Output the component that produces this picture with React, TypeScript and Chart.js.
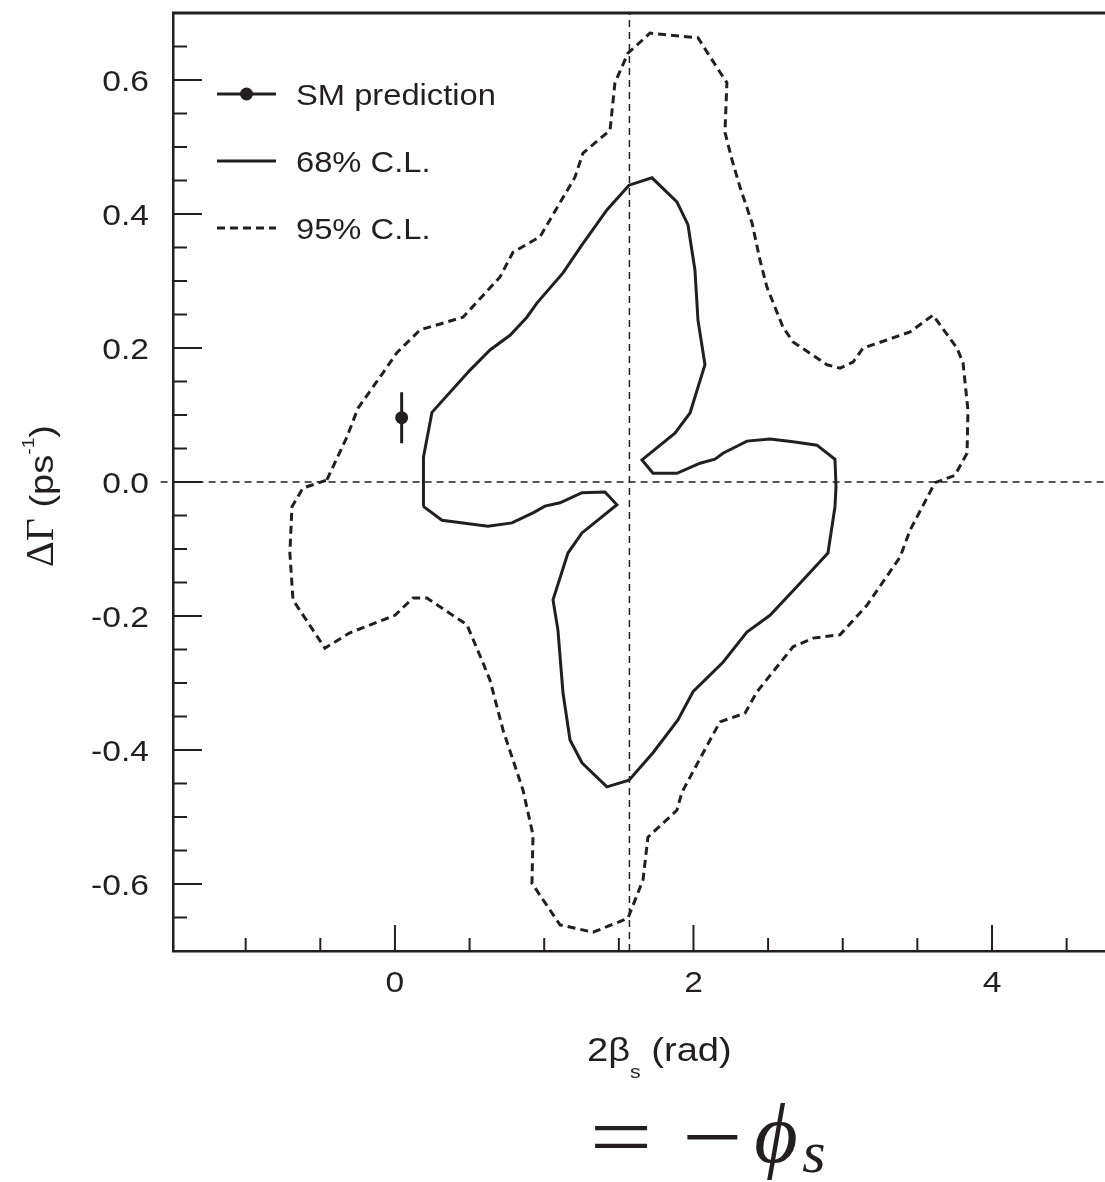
import { useEffect, useRef } from "react";
import { Chart, registerables } from "chart.js";

Chart.register(...registerables);

const INK = "#231f20";
const WIDTH = 1105;
const HEIGHT = 1182;
// the plot frame continues past the right edge of the page
const CANVAS_WIDTH = 1112;

// 95% C.L. contour: 2βs (rad) and ΔΓ (ps^-1)
const cl95Beta = [
  -0.456, -0.322, -0.248, -0.08, 0.013, 0.168, 0.456, 0.704, 0.791, 0.972,
  1.206, 1.26, 1.441, 1.474, 1.561, 1.709, 2.03, 2.191, 2.224, 2.211,
  2.258, 2.312, 2.392, 2.446, 2.492, 2.6, 2.667, 2.894, 2.982, 3.069,
  3.136, 3.296, 3.451, 3.605, 3.765, 3.806, 3.839, 3.833, 3.752, 3.618,
  3.451, 3.384, 3.162, 2.982, 2.801, 2.667, 2.426, 2.345, 2.178, 2.111,
  1.923, 1.889, 1.695, 1.662, 1.561, 1.327, 1.106, 0.918, 0.925, 0.858,
  0.724, 0.637, 0.59, 0.482, 0.214, 0.121, 0.0, -0.302, -0.469, -0.683,
  -0.704, -0.69, -0.616,
];
const cl95Gamma = [
  0.003, 0.067, 0.11, 0.163, 0.193, 0.227, 0.246, 0.306, 0.343, 0.366,
  0.455, 0.491, 0.525, 0.596, 0.64, 0.67, 0.663, 0.607, 0.596, 0.522,
  0.481, 0.44, 0.387, 0.331, 0.291, 0.231, 0.209, 0.175, 0.17, 0.179,
  0.2, 0.212, 0.224, 0.249, 0.2, 0.178, 0.107, 0.043, 0.01, -0.001,
  -0.072, -0.112, -0.184, -0.228, -0.233, -0.246, -0.313, -0.345, -0.358, -0.385,
  -0.463, -0.49, -0.53, -0.594, -0.651, -0.672, -0.661, -0.599, -0.527, -0.46,
  -0.37, -0.296, -0.27, -0.213, -0.173, -0.173, -0.199, -0.225, -0.248, -0.176,
  -0.106, -0.037, -0.009,
];

// 68% C.L. contour
const cl68Beta = [
  0.188, 0.188, 0.194, 0.248, 0.503, 0.637, 0.771, 0.884, 0.951, 1.126,
  1.253, 1.42, 1.568, 1.722, 1.889, 1.963, 2.01, 2.03, 2.077, 1.977,
  1.876, 1.655, 1.729, 1.889, 2.044, 2.144, 2.198, 2.358, 2.513, 2.667,
  2.827, 2.948, 2.955, 2.948, 2.901, 2.714, 2.513, 2.358, 2.198, 1.997,
  1.896, 1.729, 1.568, 1.42, 1.253, 1.173, 1.126, 1.092, 1.059, 1.159,
  1.253, 1.487, 1.407, 1.253, 1.106, 1.005, 0.925, 0.784, 0.623, 0.315,
];
const cl68Gamma = [
  -0.036, 0.0, 0.037, 0.104, 0.167, 0.197, 0.219, 0.246, 0.267, 0.312,
  0.354, 0.406, 0.443, 0.454, 0.418, 0.384, 0.316, 0.242, 0.175, 0.103,
  0.073, 0.033, 0.013, 0.013, 0.028, 0.034, 0.043, 0.061, 0.064, 0.06,
  0.055, 0.034, -0.007, -0.037, -0.106, -0.151, -0.199, -0.224, -0.269, -0.313,
  -0.355, -0.404, -0.445, -0.455, -0.419, -0.385, -0.315, -0.221, -0.176, -0.106,
  -0.076, -0.034, -0.015, -0.016, -0.031, -0.036, -0.046, -0.061, -0.066, -0.057,
];

// Standard Model prediction with its uncertainty on ΔΓ
const smBeta = 0.045;
const smGamma = 0.096;
const smGammaErr = 0.038;

// Dashed guide lines
const guideBeta = 1.571;
const guideGamma = 0;

// Axis ranges
const betaRange = [-1.487, 4.7605];
const gammaRange = [-0.7, 0.7];

// Tick marks and labels
const xMajorTicks = [0, 2, 4];
const xMajorLabels = ["0", "2", "4"];
const xMinorTicks = [-1, -0.5, 0.5, 1, 1.5, 2.5, 3, 3.5, 4.5];
const yMajorTicks = [-0.6, -0.4, -0.2, 0, 0.2, 0.4, 0.6];
const yMajorLabels = ["-0.6", "-0.4", "-0.2", "0.0", "0.2", "0.4", "0.6"];
const yMinorTicks = [
  -0.65, -0.55, -0.5, -0.45, -0.35, -0.3, -0.25, -0.15, -0.1, -0.05,
  0.05, 0.1, 0.15, 0.25, 0.3, 0.35, 0.45, 0.5, 0.55, 0.65,
];

const legendLabels = ["SM prediction", "68% C.L.", "95% C.L."];

const SANS = "'Liberation Sans', Arial, sans-serif";
const SERIF = "'Liberation Serif', 'Times New Roman', 'DejaVu Serif', serif";
const STRETCH = 1.12;
const DASH95 = [8, 5];
const DASH_GUIDE = [7, 5];

function toPoints(xs: number[], ys: number[], close: boolean) {
  const pts = xs.map((x, i) => ({ x, y: ys[i] }));
  if (close) pts.push({ ...pts[0] });
  return pts;
}

// Draws text with a horizontal stretch; returns the advance width
function run(
  ctx: CanvasRenderingContext2D,
  text: string,
  x: number,
  y: number,
  font: string,
  align: "left" | "center" | "right" = "left",
  sx = STRETCH
) {
  ctx.font = font;
  const w = ctx.measureText(text).width * sx;
  const left = align === "right" ? x - w : align === "center" ? x - w / 2 : x;
  ctx.save();
  ctx.translate(left, y);
  ctx.scale(sx, 1);
  ctx.textAlign = "left";
  ctx.textBaseline = "alphabetic";
  ctx.fillStyle = INK;
  ctx.fillText(text, 0, 0);
  ctx.restore();
  return w;
}

const framePlugin = {
  id: "frameAndText",
  afterDraw(chart: any) {
    const ctx: CanvasRenderingContext2D = chart.ctx;
    const area = chart.chartArea;
    const xs = chart.scales.x;
    const ys = chart.scales.y;

    ctx.save();
    ctx.strokeStyle = INK;
    ctx.fillStyle = INK;
    ctx.lineCap = "butt";

    // top frame line
    ctx.lineWidth = 3;
    ctx.beginPath();
    ctx.moveTo(area.left - 1, area.top);
    ctx.lineTo(area.right, area.top);
    ctx.stroke();

    // inward tick marks
    ctx.lineWidth = 2;
    const tick = (x1: number, y1: number, x2: number, y2: number) => {
      ctx.beginPath();
      ctx.moveTo(x1, y1);
      ctx.lineTo(x2, y2);
      ctx.stroke();
    };
    xMajorTicks.forEach((v) => {
      const p = xs.getPixelForValue(v);
      tick(p, area.bottom, p, area.bottom - 26);
    });
    xMinorTicks.forEach((v) => {
      const p = xs.getPixelForValue(v);
      tick(p, area.bottom, p, area.bottom - 13);
    });
    yMajorTicks.forEach((v) => {
      const p = ys.getPixelForValue(v);
      tick(area.left, p, area.left + 29, p);
    });
    yMinorTicks.forEach((v) => {
      const p = ys.getPixelForValue(v);
      tick(area.left, p, area.left + 14, p);
    });

    // tick labels
    const tickFont = `30px ${SANS}`;
    xMajorTicks.forEach((v, i) => {
      run(ctx, xMajorLabels[i], xs.getPixelForValue(v), area.bottom + 41, tickFont, "center");
    });
    yMajorTicks.forEach((v, i) => {
      run(ctx, yMajorLabels[i], area.left - 24, ys.getPixelForValue(v) + 11, tickFont, "right");
    });

    // legend
    const ds = chart.data.datasets;
    const lx0 = area.left + 44;
    const lx1 = area.left + 103;
    const tx = area.left + 123;
    const rows = [area.top + 81, area.top + 148, area.top + 215];
    rows.forEach((ry, i) => {
      ctx.save();
      ctx.lineWidth = 3;
      ctx.setLineDash(i === 2 ? DASH95 : []);
      ctx.beginPath();
      ctx.moveTo(lx0, ry);
      ctx.lineTo(lx1, ry);
      ctx.stroke();
      ctx.restore();
      if (i === 0) {
        ctx.beginPath();
        ctx.arc((lx0 + lx1) / 2, ry, ds[5].pointRadius, 0, Math.PI * 2);
        ctx.fill();
      }
      run(ctx, legendLabels[i], tx, ry + 11, `30px ${SANS}`, "left", 1.09);
    });

    // x-axis title: 2β_s (rad)
    const titleFont = `34px ${SANS}`;
    let cx = 587;
    const base = 1061;
    cx += run(ctx, "2β", cx, base, titleFont);
    cx += run(ctx, "s", cx, base + 17, `19px ${SANS}`);
    run(ctx, " (rad)", cx, base, titleFont);

    // y-axis title: ΔΓ (ps^-1), rotated
    ctx.save();
    ctx.translate(53, 567);
    ctx.rotate(-Math.PI / 2);
    let cy = 0;
    cy += run(ctx, "ΔΓ", cy, 0, `40px ${SERIF}`, "left", 1.0);
    cy += run(ctx, " (ps", cy, 0, titleFont);
    cy += run(ctx, "-1", cy, -19, `17px ${SANS}`);
    run(ctx, ")", cy, 0, titleFont);
    ctx.restore();

    // relation below the axis: = −ϕ_s
    run(ctx, "=", 621, 1166, `86px ${SERIF}`, "center", 1.3);
    run(ctx, "\u2212", 712.5, 1166, `86px ${SERIF}`, "center", 1.25);
    run(ctx, "\u03D5", 776, 1162, `italic 84px ${SERIF}`, "center", 1.0);
    run(ctx, "s", 814, 1172, `italic 60px ${SERIF}`, "center", 1.0);

    ctx.restore();
  },
};

export default function App() {
  const ref = useRef<HTMLCanvasElement>(null);

  useEffect(() => {
    const canvas = ref.current;
    if (!canvas) return;

    const lineBase = {
      showLine: true,
      borderColor: INK,
      pointRadius: 0,
      pointHoverRadius: 0,
      pointBorderWidth: 0,
      fill: false,
      tension: 0,
    };

    const chart = new Chart(canvas, {
      type: "scatter",
      data: {
        datasets: [
          {
            ...lineBase,
            label: legendLabels[2],
            data: toPoints(cl95Beta, cl95Gamma, true),
            borderWidth: 3,
            borderDash: DASH95,
          },
          {
            ...lineBase,
            label: legendLabels[1],
            data: toPoints(cl68Beta, cl68Gamma, true),
            borderWidth: 3,
          },
          {
            ...lineBase,
            label: "guide-h",
            data: [
              { x: -1.57, y: guideGamma },
              { x: betaRange[1] + 0.1, y: guideGamma },
            ],
            borderWidth: 1.5,
            borderDash: DASH_GUIDE,
            clip: false,
          },
          {
            ...lineBase,
            label: "guide-v",
            data: [
              { x: guideBeta, y: gammaRange[0] },
              { x: guideBeta, y: gammaRange[1] },
            ],
            borderWidth: 1.5,
            borderDash: DASH_GUIDE,
          },
          {
            ...lineBase,
            label: "sm-error",
            data: [
              { x: smBeta, y: smGamma - smGammaErr },
              { x: smBeta, y: smGamma + smGammaErr },
            ],
            borderWidth: 3,
          },
          {
            label: legendLabels[0],
            data: [{ x: smBeta, y: smGamma }],
            showLine: false,
            pointRadius: 6.5,
            pointHoverRadius: 0,
            pointBackgroundColor: INK,
            pointBorderWidth: 0,
            backgroundColor: INK,
            borderColor: INK,
          },
        ],
      } as any,
      options: {
        animation: false,
        responsive: false,
        events: [],
        layout: { padding: { top: 13, left: 0, right: 0, bottom: 0 } },
        plugins: {
          legend: { display: false },
          tooltip: { enabled: false },
        },
        scales: {
          x: {
            type: "linear",
            min: betaRange[0],
            max: betaRange[1],
            grid: { display: false },
            border: { display: true, color: INK, width: 2.5 },
            ticks: { display: false },
            afterFit: (s: any) => {
              s.height = HEIGHT - 951;
            },
          },
          y: {
            type: "linear",
            min: gammaRange[0],
            max: gammaRange[1],
            grid: { display: false },
            border: { display: true, color: INK, width: 2.5 },
            ticks: { display: false },
            afterFit: (s: any) => {
              s.width = 173;
            },
          },
        },
      } as any,
      plugins: [framePlugin],
    });

    return () => chart.destroy();
  }, []);

  return (
    <div
      style={{
        position: "absolute",
        left: 0,
        top: 0,
        width: WIDTH,
        height: HEIGHT,
        overflow: "hidden",
        background: "#ffffff",
      }}
    >
      <canvas
        ref={ref}
        width={CANVAS_WIDTH}
        height={HEIGHT}
        style={{ display: "block" }}
      />
    </div>
  );
}
